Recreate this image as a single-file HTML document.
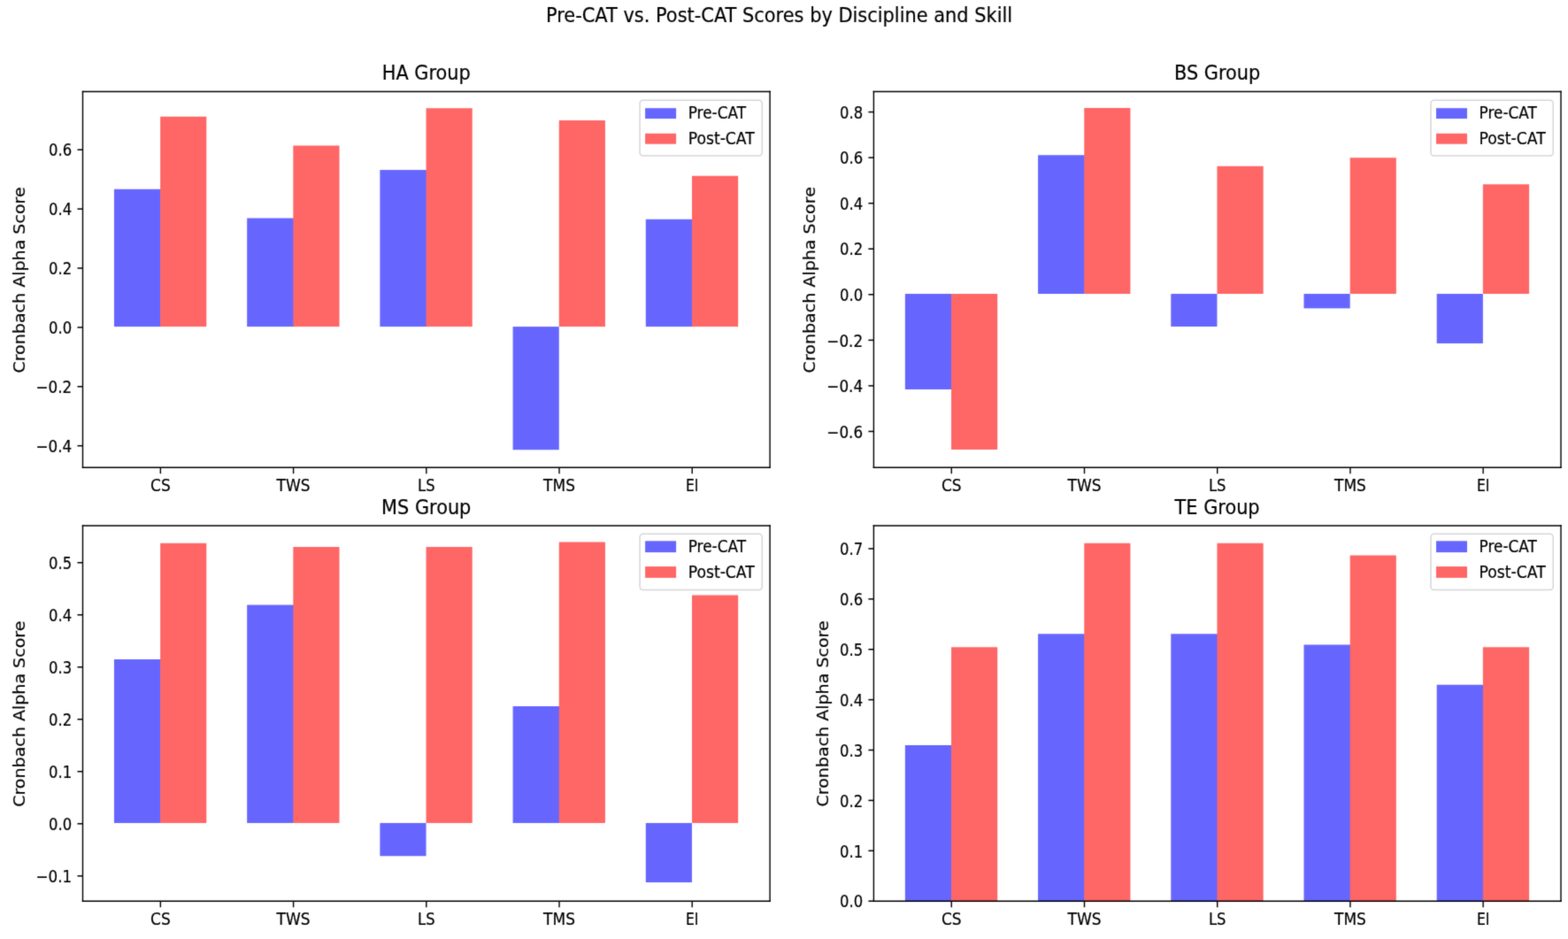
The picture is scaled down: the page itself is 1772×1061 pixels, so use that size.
<!DOCTYPE html>
<html lang="en">
<head>
<meta charset="utf-8">
<title>Pre-CAT vs. Post-CAT Scores by Discipline and Skill</title>
<style>
html, body { margin: 0; padding: 0; background: #ffffff; }
body { width: 1772px; height: 1061px; overflow: hidden; }
svg { display: block; position: absolute; left: 0; top: 0; }
text { white-space: pre; }
</style>
</head>
<body>
<svg width="1772" height="1061" viewBox="0 0 1772 1061">
<rect x="0" y="0" width="1772" height="1061" fill="#ffffff"/>
<defs><filter id="soft" x="0" y="0" width="100%" height="100%" filterUnits="userSpaceOnUse" color-interpolation-filters="sRGB"><feConvolveMatrix order="3" kernelMatrix="0.02 0.09 0.02 0.09 0.56 0.09 0.02 0.09 0.02" divisor="1" edgeMode="duplicate" preserveAlpha="false"/></filter></defs>
<g filter="url(#soft)" font-family="'DejaVu Sans', 'Liberation Sans', sans-serif" fill="#000000" stroke="#000000" stroke-width="0.22" stroke-linejoin="round">
<text transform="translate(880.5 24.9) scale(0.8831 1)" font-size="23.7" text-anchor="middle">Pre-CAT vs. Post-CAT Scores by Discipline and Skill</text>
<!-- HA Group -->
<g>
<rect x="128.95" y="213.75" width="52.87" height="155.35" fill="#6666ff" stroke="none"/>
<rect x="181.12" y="131.75" width="52.17" height="237.35" fill="#ff6666" stroke="none"/>
<rect x="279.16" y="246.5" width="52.87" height="122.6" fill="#6666ff" stroke="none"/>
<rect x="331.34" y="164.5" width="52.17" height="204.6" fill="#ff6666" stroke="none"/>
<rect x="429.38" y="192" width="52.87" height="177.1" fill="#6666ff" stroke="none"/>
<rect x="481.55" y="122.25" width="52.17" height="246.85" fill="#ff6666" stroke="none"/>
<rect x="579.59" y="369.1" width="52.17" height="139.15" fill="#6666ff" stroke="none"/>
<rect x="631.76" y="136" width="52.17" height="233.1" fill="#ff6666" stroke="none"/>
<rect x="729.8" y="247.75" width="52.87" height="121.35" fill="#6666ff" stroke="none"/>
<rect x="781.98" y="198.75" width="52.17" height="170.35" fill="#ff6666" stroke="none"/>
<line x1="181.37" y1="528.2" x2="181.37" y2="535.2" stroke="#000" stroke-width="1.4"/>
<text transform="translate(181.37 555.4) scale(0.9050 1)" font-size="18.8" text-anchor="middle">CS</text>
<line x1="331.59" y1="528.2" x2="331.59" y2="535.2" stroke="#000" stroke-width="1.4"/>
<text transform="translate(331.59 555.4) scale(0.9050 1)" font-size="18.8" text-anchor="middle">TWS</text>
<line x1="481.8" y1="528.2" x2="481.8" y2="535.2" stroke="#000" stroke-width="1.4"/>
<text transform="translate(481.8 555.4) scale(0.8723 1)" font-size="18.8" text-anchor="middle">LS</text>
<line x1="632.01" y1="528.2" x2="632.01" y2="535.2" stroke="#000" stroke-width="1.4"/>
<text transform="translate(632.01 555.4) scale(0.9050 1)" font-size="18.8" text-anchor="middle">TMS</text>
<line x1="782.23" y1="528.2" x2="782.23" y2="535.2" stroke="#000" stroke-width="1.4"/>
<text transform="translate(782.23 555.4) scale(0.8298 1)" font-size="18.8" text-anchor="middle">EI</text>
<line x1="87.5" y1="503.7" x2="93.5" y2="503.7" stroke="#000" stroke-width="1.5"/>
<text transform="translate(81.2 510.95) scale(0.8936 1)" font-size="18.8" text-anchor="end">−0.4</text>
<line x1="87.5" y1="436.8" x2="93.5" y2="436.8" stroke="#000" stroke-width="1.5"/>
<text transform="translate(81.2 444.05) scale(0.8936 1)" font-size="18.8" text-anchor="end">−0.2</text>
<line x1="87.5" y1="369.9" x2="93.5" y2="369.9" stroke="#000" stroke-width="1.5"/>
<text transform="translate(81.2 377.15) scale(0.8750 1)" font-size="18.8" text-anchor="end">0.0</text>
<line x1="87.5" y1="303" x2="93.5" y2="303" stroke="#000" stroke-width="1.5"/>
<text transform="translate(81.2 310.25) scale(0.8750 1)" font-size="18.8" text-anchor="end">0.2</text>
<line x1="87.5" y1="236.1" x2="93.5" y2="236.1" stroke="#000" stroke-width="1.5"/>
<text transform="translate(81.2 243.35) scale(0.8750 1)" font-size="18.8" text-anchor="end">0.4</text>
<line x1="87.5" y1="169.2" x2="93.5" y2="169.2" stroke="#000" stroke-width="1.5"/>
<text transform="translate(81.2 176.45) scale(0.8750 1)" font-size="18.8" text-anchor="end">0.6</text>
<line x1="93.5" y1="102.75" x2="93.5" y2="528.95" stroke="#000" stroke-width="1.4"/>
<line x1="870.1" y1="102.75" x2="870.1" y2="528.95" stroke="#000" stroke-width="1.4"/>
<line x1="92.8" y1="103.5" x2="870.8" y2="103.5" stroke="#000" stroke-width="1.5"/>
<line x1="92.8" y1="528.2" x2="870.8" y2="528.2" stroke="#000" stroke-width="1.5"/>
<text transform="translate(481.7 89.9) scale(0.8872 1)" font-size="23.5" text-anchor="middle">HA Group</text>
<text transform="translate(27.6 316.45) scale(0.8924 1) rotate(-90)" font-size="19.05" text-anchor="middle">Cronbach Alpha Score</text>
<rect x="723.1" y="113.2" width="138.2" height="62.8" rx="3.4" ry="3.8" fill="#ffffff" fill-opacity="0.8" stroke="#cccccc" stroke-opacity="0.8" stroke-width="1.5"/>
<rect x="729.1" y="122.2" width="35" height="11.9" fill="#6666ff" stroke="none"/>
<rect x="729.1" y="150.8" width="35" height="11.9" fill="#ff6666" stroke="none"/>
<text transform="translate(777.7 134.1) scale(0.8989 1)" font-size="18.8" text-anchor="start">Pre-CAT</text>
<text transform="translate(777.7 162.5) scale(0.9149 1)" font-size="18.8" text-anchor="start">Post-CAT</text>
</g>
<!-- BS Group -->
<g>
<rect x="1022.85" y="332" width="52.87" height="108" fill="#6666ff" stroke="none"/>
<rect x="1075.02" y="332" width="52.17" height="176" fill="#ff6666" stroke="none"/>
<rect x="1173.06" y="175.25" width="52.87" height="156.75" fill="#6666ff" stroke="none"/>
<rect x="1225.24" y="122" width="52.17" height="210" fill="#ff6666" stroke="none"/>
<rect x="1323.28" y="332" width="52.17" height="37" fill="#6666ff" stroke="none"/>
<rect x="1375.45" y="187.75" width="52.17" height="144.25" fill="#ff6666" stroke="none"/>
<rect x="1473.49" y="332" width="52.17" height="16.4" fill="#6666ff" stroke="none"/>
<rect x="1525.66" y="178.25" width="52.17" height="153.75" fill="#ff6666" stroke="none"/>
<rect x="1623.7" y="332" width="52.17" height="56" fill="#6666ff" stroke="none"/>
<rect x="1675.88" y="208.25" width="52.17" height="123.75" fill="#ff6666" stroke="none"/>
<line x1="1075.27" y1="528.2" x2="1075.27" y2="535.2" stroke="#000" stroke-width="1.4"/>
<text transform="translate(1075.27 555.4) scale(0.9050 1)" font-size="18.8" text-anchor="middle">CS</text>
<line x1="1225.49" y1="528.2" x2="1225.49" y2="535.2" stroke="#000" stroke-width="1.4"/>
<text transform="translate(1225.49 555.4) scale(0.9050 1)" font-size="18.8" text-anchor="middle">TWS</text>
<line x1="1375.7" y1="528.2" x2="1375.7" y2="535.2" stroke="#000" stroke-width="1.4"/>
<text transform="translate(1375.7 555.4) scale(0.8723 1)" font-size="18.8" text-anchor="middle">LS</text>
<line x1="1525.91" y1="528.2" x2="1525.91" y2="535.2" stroke="#000" stroke-width="1.4"/>
<text transform="translate(1525.91 555.4) scale(0.9050 1)" font-size="18.8" text-anchor="middle">TMS</text>
<line x1="1676.13" y1="528.2" x2="1676.13" y2="535.2" stroke="#000" stroke-width="1.4"/>
<text transform="translate(1676.13 555.4) scale(0.8298 1)" font-size="18.8" text-anchor="middle">EI</text>
<line x1="981.4" y1="487.48" x2="987.4" y2="487.48" stroke="#000" stroke-width="1.5"/>
<text transform="translate(975.1 494.73) scale(0.8936 1)" font-size="18.8" text-anchor="end">−0.6</text>
<line x1="981.4" y1="435.92" x2="987.4" y2="435.92" stroke="#000" stroke-width="1.5"/>
<text transform="translate(975.1 443.17) scale(0.8936 1)" font-size="18.8" text-anchor="end">−0.4</text>
<line x1="981.4" y1="384.36" x2="987.4" y2="384.36" stroke="#000" stroke-width="1.5"/>
<text transform="translate(975.1 391.61) scale(0.8936 1)" font-size="18.8" text-anchor="end">−0.2</text>
<line x1="981.4" y1="332.8" x2="987.4" y2="332.8" stroke="#000" stroke-width="1.5"/>
<text transform="translate(975.1 340.05) scale(0.8750 1)" font-size="18.8" text-anchor="end">0.0</text>
<line x1="981.4" y1="281.24" x2="987.4" y2="281.24" stroke="#000" stroke-width="1.5"/>
<text transform="translate(975.1 288.49) scale(0.8750 1)" font-size="18.8" text-anchor="end">0.2</text>
<line x1="981.4" y1="229.68" x2="987.4" y2="229.68" stroke="#000" stroke-width="1.5"/>
<text transform="translate(975.1 236.93) scale(0.8750 1)" font-size="18.8" text-anchor="end">0.4</text>
<line x1="981.4" y1="178.12" x2="987.4" y2="178.12" stroke="#000" stroke-width="1.5"/>
<text transform="translate(975.1 185.37) scale(0.8750 1)" font-size="18.8" text-anchor="end">0.6</text>
<line x1="981.4" y1="126.56" x2="987.4" y2="126.56" stroke="#000" stroke-width="1.5"/>
<text transform="translate(975.1 133.81) scale(0.8750 1)" font-size="18.8" text-anchor="end">0.8</text>
<line x1="987.4" y1="102.75" x2="987.4" y2="528.95" stroke="#000" stroke-width="1.4"/>
<line x1="1764" y1="102.75" x2="1764" y2="528.95" stroke="#000" stroke-width="1.4"/>
<line x1="986.7" y1="103.5" x2="1764.7" y2="103.5" stroke="#000" stroke-width="1.5"/>
<line x1="986.7" y1="528.2" x2="1764.7" y2="528.2" stroke="#000" stroke-width="1.5"/>
<text transform="translate(1375.6 89.9) scale(0.8872 1)" font-size="23.5" text-anchor="middle">BS Group</text>
<text transform="translate(920.9 316.25) scale(0.8924 1) rotate(-90)" font-size="19.05" text-anchor="middle">Cronbach Alpha Score</text>
<rect x="1617" y="113.2" width="138.2" height="62.8" rx="3.4" ry="3.8" fill="#ffffff" fill-opacity="0.8" stroke="#cccccc" stroke-opacity="0.8" stroke-width="1.5"/>
<rect x="1623" y="122.2" width="35" height="11.9" fill="#6666ff" stroke="none"/>
<rect x="1623" y="150.8" width="35" height="11.9" fill="#ff6666" stroke="none"/>
<text transform="translate(1671.6 134.1) scale(0.8989 1)" font-size="18.8" text-anchor="start">Pre-CAT</text>
<text transform="translate(1671.6 162.5) scale(0.9149 1)" font-size="18.8" text-anchor="start">Post-CAT</text>
</g>
<!-- MS Group -->
<g>
<rect x="128.95" y="745" width="52.87" height="184.95" fill="#6666ff" stroke="none"/>
<rect x="181.12" y="613.75" width="52.17" height="316.2" fill="#ff6666" stroke="none"/>
<rect x="279.16" y="683.5" width="52.87" height="246.45" fill="#6666ff" stroke="none"/>
<rect x="331.34" y="618" width="52.17" height="311.95" fill="#ff6666" stroke="none"/>
<rect x="429.38" y="929.95" width="52.17" height="37.3" fill="#6666ff" stroke="none"/>
<rect x="481.55" y="618" width="52.17" height="311.95" fill="#ff6666" stroke="none"/>
<rect x="579.59" y="798" width="52.87" height="131.95" fill="#6666ff" stroke="none"/>
<rect x="631.76" y="612.5" width="52.17" height="317.45" fill="#ff6666" stroke="none"/>
<rect x="729.8" y="929.95" width="52.17" height="67.05" fill="#6666ff" stroke="none"/>
<rect x="781.98" y="672.5" width="52.17" height="257.45" fill="#ff6666" stroke="none"/>
<line x1="181.37" y1="1018.2" x2="181.37" y2="1025.2" stroke="#000" stroke-width="1.4"/>
<text transform="translate(181.37 1045.4) scale(0.9050 1)" font-size="18.8" text-anchor="middle">CS</text>
<line x1="331.59" y1="1018.2" x2="331.59" y2="1025.2" stroke="#000" stroke-width="1.4"/>
<text transform="translate(331.59 1045.4) scale(0.9050 1)" font-size="18.8" text-anchor="middle">TWS</text>
<line x1="481.8" y1="1018.2" x2="481.8" y2="1025.2" stroke="#000" stroke-width="1.4"/>
<text transform="translate(481.8 1045.4) scale(0.8723 1)" font-size="18.8" text-anchor="middle">LS</text>
<line x1="632.01" y1="1018.2" x2="632.01" y2="1025.2" stroke="#000" stroke-width="1.4"/>
<text transform="translate(632.01 1045.4) scale(0.9050 1)" font-size="18.8" text-anchor="middle">TMS</text>
<line x1="782.23" y1="1018.2" x2="782.23" y2="1025.2" stroke="#000" stroke-width="1.4"/>
<text transform="translate(782.23 1045.4) scale(0.8298 1)" font-size="18.8" text-anchor="middle">EI</text>
<line x1="87.5" y1="989.75" x2="93.5" y2="989.75" stroke="#000" stroke-width="1.5"/>
<text transform="translate(81.2 997) scale(0.8936 1)" font-size="18.8" text-anchor="end">−0.1</text>
<line x1="87.5" y1="930.75" x2="93.5" y2="930.75" stroke="#000" stroke-width="1.5"/>
<text transform="translate(81.2 938) scale(0.8750 1)" font-size="18.8" text-anchor="end">0.0</text>
<line x1="87.5" y1="871.75" x2="93.5" y2="871.75" stroke="#000" stroke-width="1.5"/>
<text transform="translate(81.2 879) scale(0.8750 1)" font-size="18.8" text-anchor="end">0.1</text>
<line x1="87.5" y1="812.75" x2="93.5" y2="812.75" stroke="#000" stroke-width="1.5"/>
<text transform="translate(81.2 820) scale(0.8750 1)" font-size="18.8" text-anchor="end">0.2</text>
<line x1="87.5" y1="753.75" x2="93.5" y2="753.75" stroke="#000" stroke-width="1.5"/>
<text transform="translate(81.2 761) scale(0.8750 1)" font-size="18.8" text-anchor="end">0.3</text>
<line x1="87.5" y1="694.75" x2="93.5" y2="694.75" stroke="#000" stroke-width="1.5"/>
<text transform="translate(81.2 702) scale(0.8750 1)" font-size="18.8" text-anchor="end">0.4</text>
<line x1="87.5" y1="635.75" x2="93.5" y2="635.75" stroke="#000" stroke-width="1.5"/>
<text transform="translate(81.2 643) scale(0.8750 1)" font-size="18.8" text-anchor="end">0.5</text>
<line x1="93.5" y1="593.25" x2="93.5" y2="1018.95" stroke="#000" stroke-width="1.4"/>
<line x1="870.1" y1="593.25" x2="870.1" y2="1018.95" stroke="#000" stroke-width="1.4"/>
<line x1="92.8" y1="594" x2="870.8" y2="594" stroke="#000" stroke-width="1.5"/>
<line x1="92.8" y1="1018.2" x2="870.8" y2="1018.2" stroke="#000" stroke-width="1.5"/>
<text transform="translate(481.7 580.9) scale(0.8872 1)" font-size="23.5" text-anchor="middle">MS Group</text>
<text transform="translate(27.6 806.7) scale(0.8924 1) rotate(-90)" font-size="19.05" text-anchor="middle">Cronbach Alpha Score</text>
<rect x="723.1" y="603.3" width="138.2" height="63.2" rx="3.4" ry="3.8" fill="#ffffff" fill-opacity="0.8" stroke="#cccccc" stroke-opacity="0.8" stroke-width="1.5"/>
<rect x="729.1" y="611.3" width="35" height="12.8" fill="#6666ff" stroke="none"/>
<rect x="729.1" y="640.1" width="35" height="12.8" fill="#ff6666" stroke="none"/>
<text transform="translate(777.7 624) scale(0.8989 1)" font-size="18.8" text-anchor="start">Pre-CAT</text>
<text transform="translate(777.7 652.9) scale(0.9149 1)" font-size="18.8" text-anchor="start">Post-CAT</text>
</g>
<!-- TE Group -->
<g>
<rect x="1022.85" y="842" width="52.87" height="176.2" fill="#6666ff" stroke="none"/>
<rect x="1075.02" y="731.25" width="52.17" height="286.95" fill="#ff6666" stroke="none"/>
<rect x="1173.06" y="716.25" width="52.87" height="301.95" fill="#6666ff" stroke="none"/>
<rect x="1225.24" y="613.75" width="52.17" height="404.45" fill="#ff6666" stroke="none"/>
<rect x="1323.28" y="716.25" width="52.87" height="301.95" fill="#6666ff" stroke="none"/>
<rect x="1375.45" y="613.75" width="52.17" height="404.45" fill="#ff6666" stroke="none"/>
<rect x="1473.49" y="728.5" width="52.87" height="289.7" fill="#6666ff" stroke="none"/>
<rect x="1525.66" y="627.5" width="52.17" height="390.7" fill="#ff6666" stroke="none"/>
<rect x="1623.7" y="773.75" width="52.87" height="244.45" fill="#6666ff" stroke="none"/>
<rect x="1675.88" y="731.25" width="52.17" height="286.95" fill="#ff6666" stroke="none"/>
<line x1="1075.27" y1="1018.2" x2="1075.27" y2="1025.2" stroke="#000" stroke-width="1.4"/>
<text transform="translate(1075.27 1045.4) scale(0.9050 1)" font-size="18.8" text-anchor="middle">CS</text>
<line x1="1225.49" y1="1018.2" x2="1225.49" y2="1025.2" stroke="#000" stroke-width="1.4"/>
<text transform="translate(1225.49 1045.4) scale(0.9050 1)" font-size="18.8" text-anchor="middle">TWS</text>
<line x1="1375.7" y1="1018.2" x2="1375.7" y2="1025.2" stroke="#000" stroke-width="1.4"/>
<text transform="translate(1375.7 1045.4) scale(0.8723 1)" font-size="18.8" text-anchor="middle">LS</text>
<line x1="1525.91" y1="1018.2" x2="1525.91" y2="1025.2" stroke="#000" stroke-width="1.4"/>
<text transform="translate(1525.91 1045.4) scale(0.9050 1)" font-size="18.8" text-anchor="middle">TMS</text>
<line x1="1676.13" y1="1018.2" x2="1676.13" y2="1025.2" stroke="#000" stroke-width="1.4"/>
<text transform="translate(1676.13 1045.4) scale(0.8298 1)" font-size="18.8" text-anchor="middle">EI</text>
<line x1="981.4" y1="1018.2" x2="987.4" y2="1018.2" stroke="#000" stroke-width="1.5"/>
<text transform="translate(975.1 1025.45) scale(0.8750 1)" font-size="18.8" text-anchor="end">0.0</text>
<line x1="981.4" y1="961.31" x2="987.4" y2="961.31" stroke="#000" stroke-width="1.5"/>
<text transform="translate(975.1 968.56) scale(0.8750 1)" font-size="18.8" text-anchor="end">0.1</text>
<line x1="981.4" y1="904.42" x2="987.4" y2="904.42" stroke="#000" stroke-width="1.5"/>
<text transform="translate(975.1 911.67) scale(0.8750 1)" font-size="18.8" text-anchor="end">0.2</text>
<line x1="981.4" y1="847.53" x2="987.4" y2="847.53" stroke="#000" stroke-width="1.5"/>
<text transform="translate(975.1 854.78) scale(0.8750 1)" font-size="18.8" text-anchor="end">0.3</text>
<line x1="981.4" y1="790.64" x2="987.4" y2="790.64" stroke="#000" stroke-width="1.5"/>
<text transform="translate(975.1 797.89) scale(0.8750 1)" font-size="18.8" text-anchor="end">0.4</text>
<line x1="981.4" y1="733.75" x2="987.4" y2="733.75" stroke="#000" stroke-width="1.5"/>
<text transform="translate(975.1 741) scale(0.8750 1)" font-size="18.8" text-anchor="end">0.5</text>
<line x1="981.4" y1="676.86" x2="987.4" y2="676.86" stroke="#000" stroke-width="1.5"/>
<text transform="translate(975.1 684.11) scale(0.8750 1)" font-size="18.8" text-anchor="end">0.6</text>
<line x1="981.4" y1="619.97" x2="987.4" y2="619.97" stroke="#000" stroke-width="1.5"/>
<text transform="translate(975.1 627.22) scale(0.8750 1)" font-size="18.8" text-anchor="end">0.7</text>
<line x1="987.4" y1="593.25" x2="987.4" y2="1018.95" stroke="#000" stroke-width="1.4"/>
<line x1="1764" y1="593.25" x2="1764" y2="1018.95" stroke="#000" stroke-width="1.4"/>
<line x1="986.7" y1="594" x2="1764.7" y2="594" stroke="#000" stroke-width="1.5"/>
<line x1="986.7" y1="1018.2" x2="1764.7" y2="1018.2" stroke="#000" stroke-width="1.5"/>
<text transform="translate(1375.6 580.9) scale(0.8872 1)" font-size="23.5" text-anchor="middle">TE Group</text>
<text transform="translate(935.6 806.4) scale(0.8924 1) rotate(-90)" font-size="19.05" text-anchor="middle">Cronbach Alpha Score</text>
<rect x="1617" y="603.3" width="138.2" height="63.2" rx="3.4" ry="3.8" fill="#ffffff" fill-opacity="0.8" stroke="#cccccc" stroke-opacity="0.8" stroke-width="1.5"/>
<rect x="1623" y="611.3" width="35" height="12.8" fill="#6666ff" stroke="none"/>
<rect x="1623" y="640.1" width="35" height="12.8" fill="#ff6666" stroke="none"/>
<text transform="translate(1671.6 624) scale(0.8989 1)" font-size="18.8" text-anchor="start">Pre-CAT</text>
<text transform="translate(1671.6 652.9) scale(0.9149 1)" font-size="18.8" text-anchor="start">Post-CAT</text>
</g>
</g>
</svg>
</body>
</html>
